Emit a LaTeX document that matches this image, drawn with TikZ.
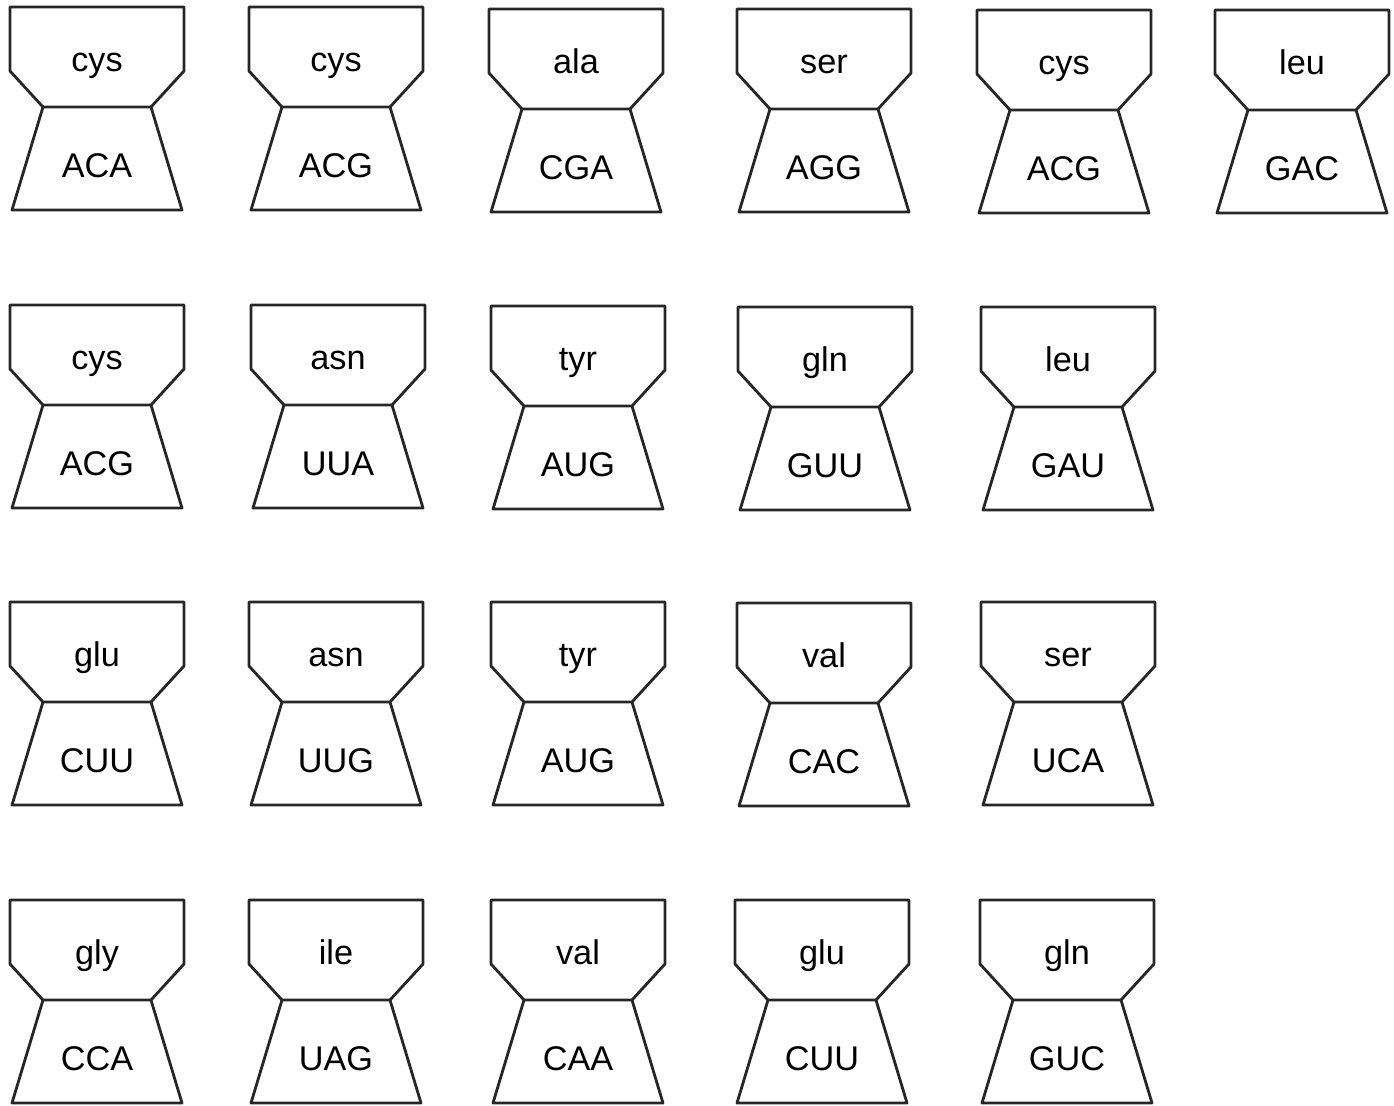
\documentclass[tikz,border=0pt]{standalone}
\usepackage{fontspec}
\setmainfont{Liberation Sans}
\usepackage{tikz}
\usetikzlibrary{positioning}
\tikzstyle{trnaline} = [draw=black!85, line width=1.6pt, line join=round]
\tikzstyle{aminolabel} = [anchor=base, inner sep=0pt, font=\fontsize{19.5}{22}\selectfont]
\tikzstyle{codonlabel} = [anchor=base, inner sep=0pt, font=\fontsize{19.5}{22}\selectfont]
% one tRNA: name, centre x, top y, amino acid, anticodon
\newcommand{\trna}[5]{%
    \draw[trnaline] (#2-87,#3) -- (#2+87,#3) -- (#2+87,#3+64) -- (#2+54,#3+100) -- (#2-54,#3+100) -- (#2-87,#3+64) -- cycle;
    \draw[trnaline] (#2-54,#3+100) -- (#2-85,#3+203) -- (#2+85,#3+203) -- (#2+54,#3+100);
    \node[aminolabel] (#1aa) at (#2,#3+64) {#4};
    \node[codonlabel] (#1codon) at (#2,#3+170) {#5};
}
\begin{document}
\begin{tikzpicture}[x=0.02cm, y=-0.02cm]
    \useasboundingbox (0,0) rectangle (1394,1106);
    % Row 1
    \trna{ra}{97}{7}{cys}{ACA}
    \trna{rb}{336}{7}{cys}{ACG}
    \trna{rc}{576}{9}{ala}{CGA}
    \trna{rd}{824}{9}{ser}{AGG}
    \trna{re}{1064}{10}{cys}{ACG}
    \trna{rf}{1302}{10}{leu}{GAC}

    % Row 2
    \trna{sa}{97}{305}{cys}{ACG}
    \trna{sb}{338}{305}{asn}{UUA}
    \trna{sc}{578}{306}{tyr}{AUG}
    \trna{sd}{825}{307}{gln}{GUU}
    \trna{se}{1068}{307}{leu}{GAU}

    % Row 3
    \trna{ta}{97}{602}{glu}{CUU}
    \trna{tb}{336}{602}{asn}{UUG}
    \trna{tc}{578}{602}{tyr}{AUG}
    \trna{td}{824}{603}{val}{CAC}
    \trna{te}{1068}{602}{ser}{UCA}

    % Row 4
    \trna{ua}{97}{900}{gly}{CCA}
    \trna{ub}{336}{900}{ile}{UAG}
    \trna{uc}{578}{900}{val}{CAA}
    \trna{ud}{822}{900}{glu}{CUU}
    \trna{ue}{1067}{900}{gln}{GUC}
\end{tikzpicture}
\end{document}
